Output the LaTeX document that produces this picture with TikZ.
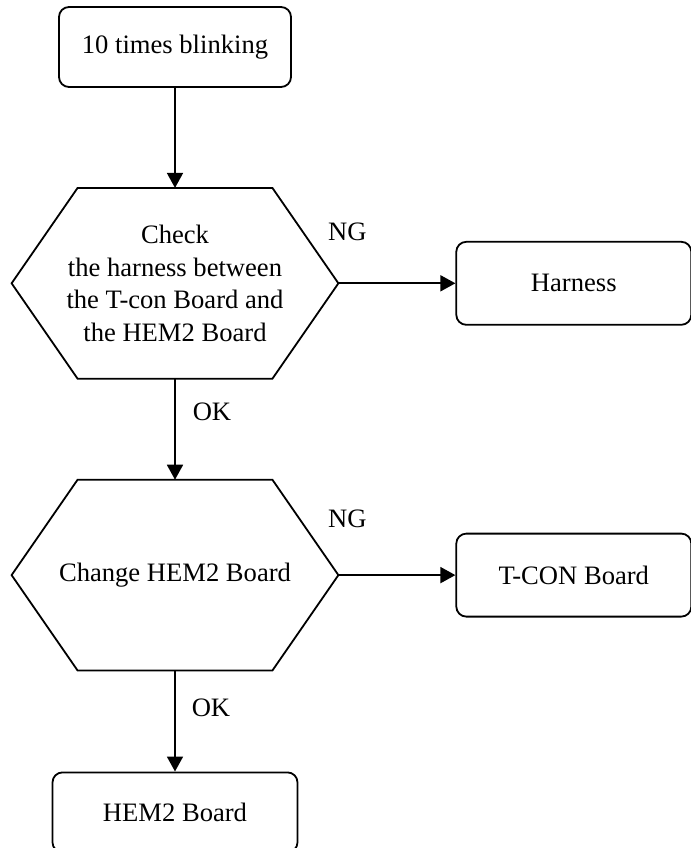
\documentclass[tikz,border=0pt]{standalone}
\usepackage{fontspec}
\setmainfont{Liberation Serif}
\usetikzlibrary{arrows.meta,positioning}
\tikzset{
  stepbox/.style={draw,rounded corners=5pt,line width=0.9pt,align=center,
    minimum width=116pt,minimum height=40pt,inner sep=0pt,
    font=\fontsize{13.3}{16}\selectfont},
  partbox/.style={stepbox,minimum width=117.5pt,minimum height=41.5pt},
  checkhex/.style={align=center,inner sep=0pt,
    minimum width=163pt,minimum height=95pt,
    font=\fontsize{13.3}{16.2}\selectfont},
  hexline/.style={line width=0.9pt,line join=miter},
  arrow/.style={-{Triangle[length=7.5pt,width=8pt]},line width=0.9pt},
  tag/.style={font=\fontsize{13.3}{15}\selectfont,inner sep=0pt}
}

\begin{document}
\begin{tikzpicture}[x=0.5pt,y=-0.5pt]
  \useasboundingbox (0,0) rectangle (691,848);
  \node[stepbox] (blink) at (175,47) {10 times blinking};
  \node[checkhex,below=50pt of blink] (harnesscheck) {Check\\the harness between\\the T-con Board and\\the HEM2 Board};
  \node[partbox,right=58.5pt of harnesscheck] (harness) {Harness};
  \node[checkhex,below=50.5pt of harnesscheck] (hemchange) {Change HEM2 Board};
  \node[partbox,right=58.5pt of hemchange] (tcon) {T-CON Board};
  \node[stepbox,below=50.5pt of hemchange,minimum width=122.5pt] (hemboard) {HEM2 Board};
  % hexagon outlines
  \foreach \hx in {harnesscheck,hemchange}
    \draw[hexline] (\hx.west) -- ([xshift=33pt]\hx.north west)
      -- ([xshift=-33pt]\hx.north east) -- (\hx.east)
      -- ([xshift=-33pt]\hx.south east) -- ([xshift=33pt]\hx.south west) -- cycle;
  % labels
  \node[tag] (ng1) at ([shift={(9,-51)}]harnesscheck.east) {NG};
  \node[tag] (ok1) at ([shift={(37,33)}]harnesscheck.south) {OK};
  \node[tag] (ng2) at ([shift={(9,-56)}]hemchange.east) {NG};
  \node[tag] (ok2) at ([shift={(36,37)}]hemchange.south) {OK};
  \draw[arrow] (blink) -- (harnesscheck);
  \draw[arrow] (harnesscheck) -- (harness);
  \draw[arrow] (harnesscheck) -- (hemchange);
  \draw[arrow] (hemchange) -- (tcon);
  \draw[arrow] (hemchange) -- (hemboard);
\end{tikzpicture}
\end{document}
